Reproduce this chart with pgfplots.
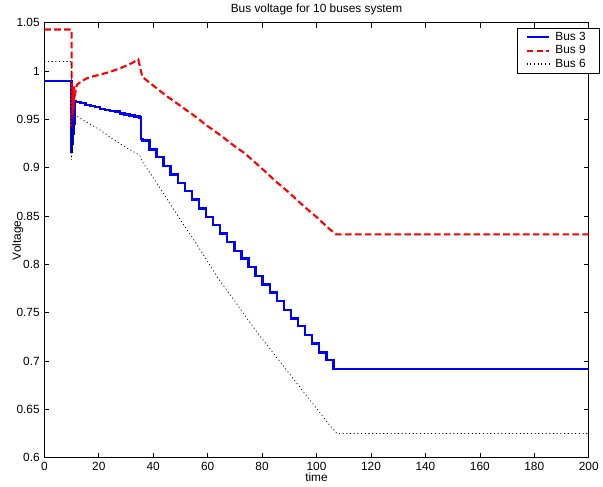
\documentclass[border=0pt]{standalone}
\usepackage{fontspec}
\setmainfont{Liberation Sans}
\usepackage{pgfplots}
\pgfplotsset{compat=1.18}

\begin{document}
\begin{tikzpicture}[font=\fontsize{9}{11}\selectfont]
\begin{axis}[
  name=main,
  scale only axis,
  width=413pt,
  height=330pt,
  xmin=0, xmax=200,
  ymin=0.6, ymax=1.05,
  xtick={0,20,...,200},
  ytick={0.6,0.65,0.7,0.75,0.8,0.85,0.9,0.95,1,1.05},
  yticklabels={0.6,0.65,0.7,0.75,0.8,0.85,0.9,0.95,1,1.05},
  /pgf/number format/assume math mode=true,
  tick align=inside,
  major tick length=3.8pt,
  axis line style={line width=0.6pt},
  every tick/.style={black, line width=0.5pt},
  title={Bus voltage for 10 buses system},
  title style={yshift=-4pt},
  xlabel={time},
  ylabel={Voltage},
  xlabel style={yshift=5pt},
  ylabel style={yshift=-12pt},
  legend style={at={(1,1)}, anchor=north east, xshift=8pt, yshift=-4pt,
    draw=black, line width=0.5pt, inner xsep=6pt, inner ysep=1.8pt,
    row sep=0pt, nodes={inner ysep=1.2pt, inner xsep=4pt},
    font=\fontsize{9}{11}\selectfont},
  legend cell align=left,
  legend image post style={line width=1.5pt},
]

% Bus 3
\addplot[blue, line width=1.8pt, const plot] coordinates {
  (0,0.990) (10,0.990) (10,0.916) (10.15,0.972) (10.3,0.925) (10.45,0.968)
  (10.6,0.935) (10.8,0.970) (11,0.945) (11.2,0.969)
  (11.5,0.968) (13.3,0.967) (15.1,0.965) (16.9,0.964) (18.7,0.963) (20.5,0.961)
  (22.3,0.960) (24.1,0.959) (25.9,0.958) (27.7,0.956) (29.5,0.955) (31.3,0.954)
  (33.1,0.953) (34.9,0.952) (35.6,0.930)
  (36.0,0.928) (38.6,0.919) (41.2,0.911) (43.8,0.902) (46.4,0.893) (49.0,0.884)
  (51.6,0.876) (54.2,0.867) (56.8,0.858) (59.4,0.849) (62.0,0.841) (64.6,0.832)
  (67.2,0.823) (69.8,0.814) (72.4,0.806) (75.0,0.797) (77.6,0.788) (80.2,0.779)
  (82.8,0.771) (85.4,0.762) (88.0,0.753) (90.6,0.744) (93.2,0.736) (95.8,0.727)
  (98.4,0.718) (101.0,0.709) (103.6,0.701) (106.2,0.692) (200,0.692)
};
\addlegendentry{Bus 3}

% Bus 9
\addplot[red, line width=1.6pt, dash pattern=on 5pt off 2.5pt] coordinates {
  (0,1.043) (10,1.043) (10,0.940) (10.15,0.985) (10.3,0.950) (10.5,0.982)
  (10.7,0.960) (10.9,0.984) (11.2,0.975) (12,0.986) (14,0.990) (16,0.993)
  (20,0.996) (24,0.999) (28,1.003) (32,1.008) (34.5,1.012) (36,0.994)
  (40,0.985) (45,0.974) (50,0.964) (55,0.954) (60,0.943) (65,0.933) (70,0.922)
  (73.6,0.915) (80,0.899) (85,0.886) (90,0.874) (95,0.861) (100,0.849)
  (105,0.836) (107.3,0.831) (200,0.831)
};
\addlegendentry{Bus 9}

% Bus 6
\addplot[black, line width=0.55pt, dash pattern=on 0.8pt off 2pt] coordinates {
  (0,1.010) (10,1.010) (10,0.908) (10.2,0.955) (10.4,0.915) (10.6,0.956)
  (11,0.955) (15,0.948) (20,0.940) (25,0.930) (30,0.921) (35,0.913) (36,0.906)
  (40,0.890) (45,0.868) (50,0.846) (55,0.825) (60,0.803) (64,0.785) (70,0.762)
  (75,0.742) (80,0.723) (85,0.705) (90,0.687) (95,0.669) (100,0.651)
  (105,0.633) (107.5,0.625) (200,0.625)
};
\addlegendentry{Bus 6}

\end{axis}
% a little white space left of the y label, as in the reference
\path ([xshift=-6pt]main.outer west);
\end{tikzpicture}
\end{document}
